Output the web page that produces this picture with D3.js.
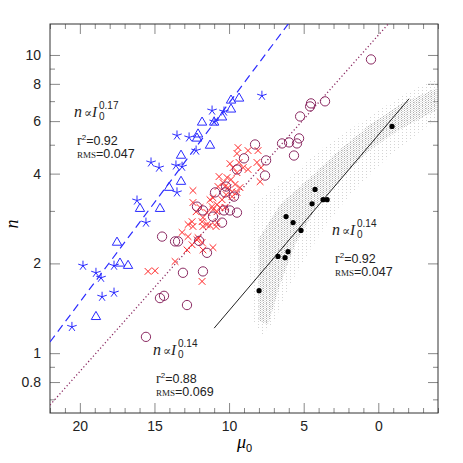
<!DOCTYPE html>
<html>
<head>
<meta charset="utf-8">
<script src="https://cdn.jsdelivr.net/npm/d3@7"></script>
<style>
body { margin: 0; background: #fff; }
.tick line { stroke: #888; }
.tick text { font-family: "Liberation Sans", Arial, sans-serif; font-size: 14px; fill: #222; }
.ann { font-family: "Liberation Sans", Arial, sans-serif; fill: #222; }
</style>
</head>
<body>
<div id="chart"></div>
<script>
// values: [mu0, n]
let blueStars = [
    [7.8, 7.3], [11.14, 6.51], [10.34, 6.46], [11.0, 5.98], [13.49, 5.37], [12.68, 5.29],
    [12.21, 4.78], [15.23, 4.36], [14.69, 4.19], [13.56, 4.26], [13.15, 4.22], [13.49, 3.46],
    [16.17, 3.25], [15.57, 2.74], [19.79, 1.965], [18.92, 1.86], [18.58, 1.79], [17.71, 1.965],
    [18.51, 1.546], [17.71, 1.596], [20.53, 1.225]
]
let blueTriangles = [
    [9.33, 7.15], [9.87, 7.04], [9.87, 6.57], [10.47, 6.18], [11.0, 5.94], [11.81, 5.94],
    [12.08, 5.42], [12.15, 5.25], [11.28, 4.97], [13.22, 4.60], [13.22, 3.76], [14.02, 3.59],
    [15.97, 3.05], [14.63, 3.05], [17.51, 2.35], [17.31, 2.0], [16.77, 1.965], [18.92, 1.324]
]
let redCrosses = [
    [9.40, 4.89], [9.47, 4.67], [8.73, 4.78], [8.06, 4.78], [8.13, 4.36], [7.86, 4.19],
    [9.94, 4.32], [9.33, 4.36], [9.73, 4.19], [9.06, 4.19], [9.47, 4.03], [8.73, 4.13],
    [7.92, 3.76], [10.67, 3.91], [10.14, 3.88], [9.87, 3.82], [10.40, 3.73], [10.74, 3.62],
    [10.27, 3.62], [10.07, 3.59], [9.80, 3.48], [9.60, 3.68], [9.27, 3.59], [9.47, 3.46],
    [9.80, 3.35], [12.42, 3.51], [11.08, 3.32], [11.28, 3.27], [10.81, 3.15], [10.61, 3.08],
    [11.08, 3.03], [10.27, 3.08], [12.42, 3.20], [11.48, 2.96], [11.81, 2.76], [12.48, 2.76],
    [11.75, 2.66], [12.42, 2.66], [12.75, 2.70], [13.15, 2.54], [12.15, 2.40], [12.48, 2.31],
    [12.82, 2.22], [13.62, 2.03], [11.81, 1.74], [10.81, 2.74], [11.75, 2.85], [12.21, 2.98],
    [11.48, 2.70], [10.81, 2.98], [10.87, 2.66], [11.28, 2.68], [12.75, 2.46], [12.08, 2.44],
    [11.81, 2.35], [11.75, 2.22], [11.08, 2.26], [15.43, 1.88], [14.96, 1.89], [11.95, 3.08],
    [10.47, 3.27], [10.20, 3.40], [11.14, 3.10]
]
let purpleCircles = [
    [0.49, 9.66], [3.57, 6.99], [4.51, 6.88], [4.57, 6.72], [5.24, 6.22], [5.31, 5.25],
    [6.45, 5.05], [5.98, 5.09], [5.45, 5.05], [5.65, 4.60], [8.26, 5.01], [7.52, 4.43],
    [7.59, 3.94], [9.00, 4.50], [9.47, 4.13], [10.20, 3.62], [10.27, 3.46], [9.67, 3.35],
    [10.94, 3.46], [11.08, 2.87], [12.15, 3.10], [11.75, 3.01], [10.34, 3.01], [9.94, 3.01],
    [9.47, 2.96], [10.47, 2.74], [14.49, 2.46], [13.62, 2.37], [13.42, 2.37], [12.01, 2.38],
    [11.48, 2.17], [13.09, 1.86], [11.75, 1.88], [14.63, 1.53], [14.36, 1.557], [12.82, 1.45],
    [15.57, 1.134]
]
let blackDots = [
    [-0.92, 5.76], [4.24, 3.54], [4.44, 3.17], [3.70, 3.27], [3.43, 3.27], [6.18, 2.87],
    [5.71, 2.74], [5.18, 2.58], [6.72, 2.11], [6.25, 2.09], [6.05, 2.19], [7.99, 1.62]
]
// grey model cloud: faint outer envelope and denser core
let cloudOuter = [
    [8.39, 3.15], [7.59, 3.40], [5.91, 3.88], [3.90, 4.82], [1.89, 5.63], [-0.12, 6.57],
    [-2.13, 7.55], [-4.0, 8.41], [-4.0, 6.17], [-2.13, 5.21], [-0.12, 4.29], [1.89, 3.40],
    [3.23, 2.80], [4.57, 2.22], [5.91, 1.70], [6.92, 1.29], [7.79, 1.15], [8.39, 1.29], [8.60, 1.90]
]
let cloudCore = [
    [8.06, 2.40], [6.58, 3.15], [4.57, 3.88], [2.56, 4.82], [0.55, 5.85], [-1.46, 6.82],
    [-4.0, 7.78], [-4.0, 6.57], [-1.46, 5.63], [0.55, 4.82], [2.56, 3.82], [4.24, 3.03],
    [5.58, 2.31], [6.58, 1.70], [7.39, 1.245], [8.06, 1.29]
]
// fitted relations
let blueFit = [[22, 1.09], [5, 14.9]]
let purpleFit = [[22, 0.67], [-2, 15.1]]
let blackFit = [[11.0, 1.213], [-2.06, 7.13]]

let xMajor = [20, 15, 10, 5, 0]
let xMinor = d3.range(-4, 23).filter(v => v % 5 !== 0)
let yMajor = [0.8, 1, 2, 4, 6, 8, 10]
let yMinor = [0.7, 0.9, 3, 5, 7, 9]

let margin = { top: 24, right: 25, bottom: 50, left: 50 }
let width = 463 - margin.left - margin.right
let height = 463 - margin.top - margin.bottom

let svg = d3.select('#chart')
    .append('svg')
    .attr('width', 463)
    .attr('height', 463)
    .append('g')
    .attr('transform', `translate(${margin.left}, ${margin.top})`)

let x = d3.scaleLinear().domain([22, -4]).range([0, width])
let y = d3.scaleLog().domain([0.63, 12.7]).range([height, 0])

let blue = '#2b2bff', red = '#ff2424', purple = '#8b2a62'

let defs = svg.append('defs')
defs.append('clipPath').attr('id', 'clip')
    .append('rect').attr('width', width).attr('height', height)
let patOuter = defs.append('pattern').attr('id', 'cloudOuter')
    .attr('width', 4).attr('height', 3).attr('patternUnits', 'userSpaceOnUse')
patOuter.append('rect').attr('width', 1).attr('height', 1).attr('fill', '#d4d4d4')
let patCore = defs.append('pattern').attr('id', 'cloudCore')
    .attr('width', 3).attr('height', 2).attr('patternUnits', 'userSpaceOnUse')
patCore.append('rect').attr('width', 1).attr('height', 1).attr('fill', '#b0b0b0')
patCore.append('rect').attr('x', 1.5).attr('y', 1).attr('width', 1).attr('height', 1).attr('fill', '#cccccc')

// axes
function addAxis(axis, transform) {
    let g = svg.append('g').attr('transform', transform).call(axis)
    g.select('.domain').remove()
    return g
}
addAxis(d3.axisBottom(x).tickValues(xMajor).tickSize(-10).tickPadding(8).tickFormat(d => d), `translate(0, ${height})`)
addAxis(d3.axisBottom(x).tickValues(xMinor).tickSize(-5).tickFormat(''), `translate(0, ${height})`)
addAxis(d3.axisTop(x).tickValues(xMajor).tickSize(-10).tickFormat(''), 'translate(0, 0)')
addAxis(d3.axisTop(x).tickValues(xMinor).tickSize(-5).tickFormat(''), 'translate(0, 0)')
addAxis(d3.axisLeft(y).tickValues(yMajor).tickSize(-10).tickPadding(9).tickFormat(d => d), 'translate(0, 0)')
addAxis(d3.axisLeft(y).tickValues(yMinor).tickSize(-5).tickFormat(''), 'translate(0, 0)')
addAxis(d3.axisRight(y).tickValues(yMajor).tickSize(-10).tickFormat(''), `translate(${width}, 0)`)
addAxis(d3.axisRight(y).tickValues(yMinor).tickSize(-5).tickFormat(''), `translate(${width}, 0)`)

svg.append('rect')
    .attr('width', width).attr('height', height)
    .attr('fill', 'none').attr('stroke', '#333').attr('stroke-width', 1)

let plot = svg.append('g').attr('clip-path', 'url(#clip)')

let area = d3.line().x(d => x(d[0])).y(d => y(d[1])).curve(d3.curveLinearClosed)
plot.append('path').datum(cloudOuter).attr('d', area).attr('fill', 'url(#cloudOuter)')
plot.append('path').datum(cloudCore).attr('d', area).attr('fill', 'url(#cloudCore)')

let line = d3.line().x(d => x(d[0])).y(d => y(d[1]))

plot.append('path').datum(blueFit).attr('d', line)
    .attr('stroke', blue).attr('stroke-width', 1.2).attr('fill', 'none')
    .attr('stroke-dasharray', '8,5')
plot.append('path').datum(purpleFit).attr('d', line)
    .attr('stroke', purple).attr('stroke-width', 1.3).attr('fill', 'none')
    .attr('stroke-dasharray', '1.2,2.4')
plot.append('path').datum(blackFit).attr('d', line)
    .attr('stroke', '#222').attr('stroke-width', 1).attr('fill', 'none')

// markers
let star5 = {
    draw(ctx, size) {
        let r = Math.sqrt(size) / 2
        for (let k = 0; k < 5; k++) {
            let a = -Math.PI / 2 + k * 2 * Math.PI / 5
            ctx.moveTo(0, 0)
            ctx.lineTo(r * Math.cos(a), r * Math.sin(a))
        }
    }
}
let cross = {
    draw(ctx, size) {
        let r = Math.sqrt(size) / 2
        ctx.moveTo(-r, -r); ctx.lineTo(r, r)
        ctx.moveTo(-r, r); ctx.lineTo(r, -r)
    }
}

function markers(data, type, size, color) {
    plot.append('g').selectAll('path')
        .data(data)
        .join('path')
        .attr('transform', d => `translate(${x(d[0])}, ${y(d[1])})`)
        .attr('d', d3.symbol().type(type).size(size))
        .attr('fill', 'none')
        .attr('stroke', color)
        .attr('stroke-width', 1)
}
markers(redCrosses, cross, 45, red)
markers(purpleCircles, d3.symbolCircle, 68, purple)
markers(blueStars, star5, 100, blue)
markers(blueTriangles, d3.symbolTriangle, 38, blue)

plot.append('g').selectAll('circle')
    .data(blackDots)
    .join('circle')
    .attr('cx', d => x(d[0]))
    .attr('cy', d => y(d[1]))
    .attr('r', 2.6)
    .attr('fill', '#000')

// annotations (page coordinates)
let page = d3.select('svg')
function law(px, py, exp, r2, rms) {
    let t = page.append('g').attr('class', 'ann')
    t.append('text').attr('x', px).attr('y', py)
        .style('font-family', '"Liberation Serif", serif').style('font-style', 'italic').style('font-size', '16px').text('n')
    t.append('text').attr('x', px + 10).attr('y', py)
        .style('font-family', '"DejaVu Serif", serif').style('font-size', '12px').text('∝')
    t.append('text').attr('x', px + 18).attr('y', py)
        .style('font-family', '"Liberation Serif", serif').style('font-style', 'italic').style('font-size', '15px').text('I')
    t.append('text').attr('x', px + 25).attr('y', py - 8).style('font-size', '10px').text(exp)
    t.append('text').attr('x', px + 25).attr('y', py + 3).style('font-size', '10px').text('0')

    let a = t.append('text').attr('x', px + 3).attr('y', py + 28).style('font-size', '12.5px')
    a.append('tspan').style('font-family', '"Liberation Serif", serif').style('font-size', '14px').text('r')
    a.append('tspan').attr('dy', -5).style('font-size', '8px').text('2')
    a.append('tspan').attr('dy', 5).text('=' + r2)
    let b = t.append('text').attr('x', px + 3).attr('y', py + 41).style('font-size', '12.5px')
    b.append('tspan').style('font-family', '"Liberation Serif", serif').style('font-size', '9px').text('RMS')
    b.append('tspan').text('=' + rms)
}
law(74, 117, '0.17', '0.92', '0.047')
law(332, 235, '0.14', '0.92', '0.047')
law(153, 355, '0.14', '0.88', '0.069')

// axis titles
let xt = page.append('text').attr('x', 237).attr('y', 448)
    .style('font-family', '"Liberation Serif", serif').style('font-size', '18px')
xt.append('tspan').style('font-style', 'italic').text('μ')
xt.append('tspan').attr('dy', 4).style('font-family', '"Liberation Sans", sans-serif').style('font-size', '11px').text('0')

page.append('text')
    .attr('transform', 'translate(18, 224) rotate(-90)')
    .attr('text-anchor', 'middle')
    .style('font-family', '"Liberation Serif", serif').style('font-style', 'italic').style('font-size', '18px')
    .text('n')
</script>
</body>
</html>
